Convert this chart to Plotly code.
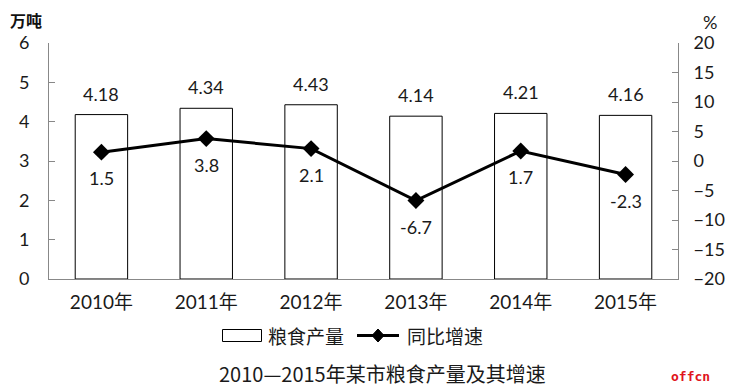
import plotly.graph_objects as go

categories = ["2010年", "2011年", "2012年", "2013年", "2014年", "2015年"]
production = [4.18, 4.34, 4.43, 4.14, 4.21, 4.16]
growth = [1.5, 3.8, 2.1, -6.7, 1.7, -2.3]
left_ticks = [0, 1, 2, 3, 4, 5, 6]
right_ticks = [-20, -15, -10, -5, 0, 5, 10, 15, 20]

FONT = "Lato, 'Noto Sans CJK SC', sans-serif"
CJK = "'Noto Sans CJK SC', sans-serif"
AXC = "#888888"
TXT = "#1a1a1a"

# page offset (body margin 8px) compensated: figure spans page 8..735 / 8..387
PL, PR, PT, PB = 49, 678, 43, 279  # plot area in page pixels


def px(x, y):
    return (x - PL) / (PR - PL), (PB - y) / (PB - PT)


fig = go.Figure()
fig.add_trace(go.Bar(
    x=categories, y=production, name="粮食产量",
    marker=dict(color="white", line=dict(color="black", width=1)),
    width=0.5, showlegend=False,
))
fig.add_trace(go.Scatter(
    x=categories, y=growth, name="同比增速", yaxis="y2",
    mode="lines+markers",
    line=dict(color="black", width=3),
    marker=dict(symbol="diamond", size=13, color="black"),
    showlegend=False, cliponaxis=False,
))

anns = []
for c, v in zip(categories, production):
    anns.append(dict(x=c, y=v, xref="x", yref="y", text=f"{v:.2f}", showarrow=False,
                     yanchor="middle", yshift=21, font=dict(size=18, family=FONT, color=TXT)))
for c, v in zip(categories, growth):
    anns.append(dict(x=c, y=v, xref="x", yref="y2", text=str(v), showarrow=False,
                     yanchor="middle", yshift=-26, font=dict(size=18, family=FONT, color=TXT)))


def pann(text, x, y, size, family, color=TXT, xanchor="center"):
    ax, ay = px(x, y)
    anns.append(dict(text=text, x=ax, y=ay, xref="paper", yref="paper", showarrow=False,
                     xanchor=xanchor, yanchor="middle", font=dict(size=size, family=family, color=color)))


pann("<b>万吨</b>", 26, 20, 16, CJK, "#111")
pann("%", 710, 22, 18, FONT)
pann("粮食产量", 266, 335, 19, CJK, xanchor="left")
pann("同比增速", 405, 335, 19, CJK, xanchor="left")
pann("2010—2015年某市粮食产量及其增速", 382, 373, 20, CJK)
pann("<b>offcn</b>", 690, 376, 13, "'DejaVu Sans Mono', monospace", "#e0141b")

shapes = []
x0, y0 = px(222.5, 341.5)
x1, y1 = px(261.5, 329.5)
shapes.append(dict(type="rect", xref="paper", yref="paper", x0=x0, y0=y0, x1=x1, y1=y1,
                   line=dict(color="black", width=1), fillcolor="white"))
lx0, ly = px(357, 335.5)
lx1, _ = px(399, 335.5)
shapes.append(dict(type="line", xref="paper", yref="paper", x0=lx0, y0=ly, x1=lx1, y1=ly,
                   line=dict(color="black", width=3)))
# diamond in legend
dcx, dcy = 378, 335.5
pts = [px(dcx, dcy - 6.5), px(dcx + 6, dcy), px(dcx, dcy + 6.5), px(dcx - 6, dcy)]
path = "M " + " L ".join(f"{a},{b}" for a, b in pts) + " Z"
shapes.append(dict(type="path", xref="paper", yref="paper", path=path,
                   fillcolor="black", line=dict(color="black", width=1)))

fig.update_layout(
    width=727, height=379,
    margin=dict(l=41, r=57, t=35, b=108, autoexpand=False),
    paper_bgcolor="white", plot_bgcolor="white",
    font=dict(family=FONT, size=18, color=TXT),
    showlegend=False,
    xaxis=dict(showline=True, linecolor=AXC, linewidth=1, ticks="", showgrid=False,
               tickfont=dict(size=19, family=FONT, color=TXT), ticklabelstandoff=6),
    yaxis=dict(range=[0, 6], tickvals=left_ticks, showline=True, linecolor=AXC,
               linewidth=1, ticks="inside", ticklen=6, tickcolor=AXC, showgrid=False,
               zeroline=False, tickfont=dict(size=18, family=FONT, color=TXT),
               ticklabelstandoff=15),
    yaxis2=dict(range=[-20, 20], tickvals=right_ticks, overlaying="y", side="right",
                showline=True, linecolor=AXC, linewidth=1, ticks="inside", ticklen=6,
                tickcolor=AXC, showgrid=False, zeroline=False,
                tickfont=dict(size=18, family=FONT, color=TXT), ticklabelstandoff=11),
    annotations=anns,
    shapes=shapes,
)

fig.write_html("out.html")
